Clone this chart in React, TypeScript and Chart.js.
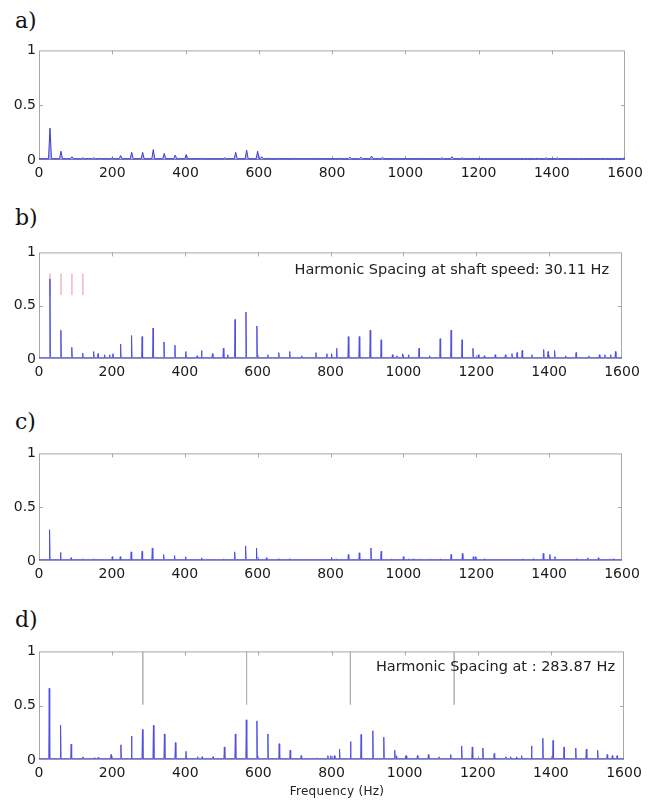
import React, { useEffect, useRef } from 'react';
import { Chart, registerables } from 'chart.js';

Chart.register(...registerables);

// ---------- tick labels ----------
const xTickValues = [0, 200, 400, 600, 800, 1000, 1200, 1400, 1600];
const yTickValues = [0, 0.5, 1];

// ---------- panel a ----------
const aFreq = [30, 60, 90, 120, 135, 150, 165, 200, 223, 253, 283, 312, 342, 372, 402, 446, 507, 537, 567, 597, 608, 627, 657, 700, 760, 820, 849, 879, 908, 938, 970, 1036, 1100, 1128, 1156, 1184, 1220, 1330, 1360, 1385, 1415, 1445, 1480, 1540, 1575, 1598];
const aAmp = [0.29, 0.08, 0.03, 0.02, 0.015, 0.02, 0.015, 0.02, 0.04, 0.07, 0.07, 0.095, 0.06, 0.045, 0.05, 0.015, 0.02, 0.07, 0.09, 0.08, 0.03, 0.015, 0.015, 0.015, 0.015, 0.015, 0.025, 0.025, 0.035, 0.025, 0.015, 0.015, 0.02, 0.03, 0.02, 0.015, 0.015, 0.015, 0.015, 0.02, 0.02, 0.015, 0.015, 0.015, 0.015, 0.02];

// ---------- panel b ----------
const bFreq = [30, 60, 90, 120, 150, 162, 180, 194, 203, 224, 254, 283, 313, 343, 373, 403, 434, 446, 476, 506, 518, 538, 568, 598, 628, 658, 688, 721, 760, 790, 803, 817, 849, 879, 909, 939, 970, 982, 998, 1014, 1043, 1072, 1101, 1131, 1161, 1191, 1206, 1222, 1252, 1280, 1298, 1312, 1326, 1353, 1385, 1397, 1415, 1445, 1474, 1509, 1538, 1553, 1569, 1582];
const bAmp = [0.75, 0.27, 0.11, 0.055, 0.07, 0.05, 0.04, 0.04, 0.05, 0.14, 0.22, 0.21, 0.29, 0.16, 0.13, 0.07, 0.03, 0.08, 0.05, 0.1, 0.04, 0.37, 0.44, 0.31, 0.04, 0.06, 0.07, 0.03, 0.06, 0.05, 0.05, 0.1, 0.21, 0.21, 0.27, 0.18, 0.04, 0.03, 0.05, 0.04, 0.1, 0.03, 0.19, 0.27, 0.18, 0.1, 0.04, 0.03, 0.04, 0.04, 0.05, 0.06, 0.08, 0.04, 0.09, 0.07, 0.08, 0.03, 0.06, 0.03, 0.04, 0.04, 0.04, 0.07];
const bMarkFreq = [30.11, 60.22, 90.33, 120.44];
const bMarkRange = [0.6, 0.8];

// ---------- panel c ----------
const cFreq = [29, 59, 88, 120, 150, 201, 223, 253, 283, 311, 342, 372, 402, 446, 507, 537, 567, 597, 624, 657, 687, 803, 817, 849, 879, 911, 939, 968, 1000, 1014, 1027, 1045, 1073, 1102, 1131, 1162, 1192, 1198, 1222, 1327, 1356, 1384, 1402, 1416, 1475, 1506, 1535, 1567, 1576];
const cAmp = [0.29, 0.08, 0.03, 0.02, 0.02, 0.04, 0.04, 0.085, 0.09, 0.12, 0.06, 0.05, 0.04, 0.03, 0.02, 0.085, 0.14, 0.12, 0.03, 0.02, 0.02, 0.03, 0.02, 0.06, 0.076, 0.12, 0.09, 0.02, 0.04, 0.02, 0.02, 0.02, 0.02, 0.02, 0.06, 0.07, 0.04, 0.04, 0.02, 0.02, 0.02, 0.07, 0.06, 0.04, 0.02, 0.03, 0.03, 0.02, 0.02];

// ---------- panel d ----------
const dFreq = [28, 59, 88, 120, 151, 162, 197, 224, 253, 283, 313, 343, 373, 402, 434, 446, 476, 507, 537, 567, 596, 626, 657, 687, 717, 760, 790, 798, 808, 822, 852, 881, 913, 943, 973, 978, 1003, 1006, 1035, 1065, 1094, 1126, 1156, 1185, 1214, 1245, 1277, 1290, 1306, 1320, 1347, 1378, 1406, 1436, 1468, 1497, 1528, 1554, 1568, 1581];
const dAmp = [0.66, 0.32, 0.145, 0.03, 0.02, 0.025, 0.05, 0.14, 0.22, 0.28, 0.32, 0.24, 0.16, 0.08, 0.03, 0.03, 0.03, 0.12, 0.24, 0.37, 0.36, 0.24, 0.15, 0.09, 0.04, 0.02, 0.04, 0.04, 0.04, 0.1, 0.17, 0.235, 0.27, 0.21, 0.09, 0.04, 0.04, 0.04, 0.04, 0.05, 0.03, 0.05, 0.13, 0.12, 0.11, 0.06, 0.03, 0.03, 0.03, 0.04, 0.13, 0.2, 0.18, 0.12, 0.11, 0.1, 0.09, 0.05, 0.04, 0.04];
const dMarkFreq = [283.87, 567.74, 851.61, 1135.48];
const dMarkRange = [0.51, 1];

const noiseFloor = 0.012;

type Pt = { x: number; y: number | null };

function spectrumPoints(freq: number[], amp: number[], hw: number): Pt[] {
  const pts: Pt[] = [{ x: 0, y: noiseFloor }];
  freq.forEach((f, i) => {
    pts.push({ x: f - hw, y: noiseFloor }, { x: f, y: amp[i] }, { x: f + hw, y: noiseFloor });
  });
  pts.push({ x: 1600, y: noiseFloor });
  return pts;
}

function markerPoints(freq: number[], range: number[]): Pt[] {
  const pts: Pt[] = [];
  freq.forEach((f) => {
    pts.push({ x: f, y: range[1] }, { x: f, y: range[0] }, { x: f, y: null });
  });
  return pts;
}

type PanelCfg = {
  key: string;
  letter: string;
  letterTop: number;
  top: number;
  bottom: number;
  right: number;
  freq: number[];
  amp: number[];
  hw: number;
  fill: boolean;
  color: string;
  markFreq?: number[];
  markRange?: number[];
  markColor?: string;
  note?: string;
  noteDx?: number;
  noteDy?: number;
};

const panels: PanelCfg[] = [
  { key: 'a', letter: 'a)', letterTop: 8, top: 49, bottom: 160, right: 625, freq: aFreq, amp: aAmp, hw: 4, fill: true, color: 'rgb(60,60,215)' },
  {
    key: 'b', letter: 'b)', letterTop: 205, top: 251, bottom: 359, right: 622, freq: bFreq, amp: bAmp, hw: 1.3, fill: false, color: 'rgb(80,80,225)',
    markFreq: bMarkFreq, markRange: bMarkRange, markColor: 'rgba(240,170,180,0.6)',
    note: 'Harmonic Spacing at shaft speed: 30.11 Hz', noteDx: 13, noteDy: 18,
  },
  { key: 'c', letter: 'c)', letterTop: 409, top: 452, bottom: 561, right: 622, freq: cFreq, amp: cAmp, hw: 1.3, fill: false, color: 'rgb(80,80,225)' },
  {
    key: 'd', letter: 'd)', letterTop: 607, top: 650, bottom: 760, right: 624, freq: dFreq, amp: dAmp, hw: 1.3, fill: false, color: 'rgb(80,80,225)',
    markFreq: dMarkFreq, markRange: dMarkRange, markColor: 'rgba(175,175,175,0.8)',
    note: 'Harmonic Spacing at : 283.87 Hz', noteDx: 9, noteDy: 16,
  },
];

const PAD_TOP = 10;
const X_AXIS_H = 30;
const Y_AXIS_W = 39;
const tickFont = { family: 'DejaVu Sans', size: 14 };

const boxPlugin = {
  id: 'boxTicks',
  beforeDatasetsDraw(chart: any) {
    const { ctx, chartArea } = chart;
    const { left, right, top, bottom } = chartArea;
    const xs = chart.scales.x;
    const ys = chart.scales.y;
    ctx.save();
    ctx.strokeStyle = '#a8a8a8';
    ctx.lineWidth = 1;
    ctx.strokeRect(left + 0.5, top + 0.5, right - left - 1, bottom - top - 1);
    ctx.beginPath();
    xTickValues.forEach((v) => {
      if (v === 0 || v === 1600) return;
      const px = Math.round(xs.getPixelForValue(v)) + 0.5;
      ctx.moveTo(px, bottom);
      ctx.lineTo(px, bottom - 4);
      ctx.moveTo(px, top);
      ctx.lineTo(px, top + 4);
    });
    yTickValues.forEach((v) => {
      if (v === 0 || v === 1) return;
      const py = Math.round(ys.getPixelForValue(v)) + 0.5;
      ctx.moveTo(left, py);
      ctx.lineTo(left + 4, py);
      ctx.moveTo(right, py);
      ctx.lineTo(right - 4, py);
    });
    ctx.stroke();
    ctx.restore();
  },
  afterDraw(chart: any) {
    const o = chart.options.plugins.boxTicks;
    if (!o || !o.note) return;
    const { ctx, chartArea } = chart;
    ctx.save();
    ctx.font = '14.5px "DejaVu Sans"';
    ctx.fillStyle = '#222';
    ctx.textAlign = 'right';
    ctx.textBaseline = 'middle';
    ctx.fillText(o.note, chartArea.right - o.dx, chartArea.top + o.dy);
    ctx.restore();
  },
};

function Panel({ cfg }: { cfg: PanelCfg }) {
  const ref = useRef<HTMLCanvasElement | null>(null);
  const plotH = cfg.bottom - cfg.top;
  const height = plotH + PAD_TOP + X_AXIS_H;

  useEffect(() => {
    if (!ref.current) return;
    const datasets: any[] = [
      {
        data: spectrumPoints(cfg.freq, cfg.amp, cfg.hw),
        borderColor: cfg.color,
        backgroundColor: 'rgba(60,60,215,0.35)',
        borderWidth: 1,
        pointRadius: 0,
        tension: 0,
        fill: cfg.fill ? 'origin' : false,
      },
    ];
    if (cfg.markFreq && cfg.markRange) {
      datasets.push({
        data: markerPoints(cfg.markFreq, cfg.markRange),
        borderColor: cfg.markColor,
        borderWidth: 1,
        pointRadius: 0,
        spanGaps: false,
        fill: false,
      });
    }
    const chart = new Chart(ref.current, {
      type: 'line',
      data: { datasets },
      plugins: [boxPlugin],
      options: {
        responsive: false,
        animation: false,
        events: [],
        layout: { padding: { top: PAD_TOP, left: 0, right: 655 - cfg.right, bottom: 0 } },
        plugins: {
          legend: { display: false },
          tooltip: { enabled: false },
          boxTicks: { note: cfg.note, dx: cfg.noteDx, dy: cfg.noteDy },
        } as any,
        scales: {
          x: {
            type: 'linear',
            min: 0,
            max: 1600,
            grid: { display: false, drawTicks: false },
            border: { display: false },
            ticks: {
              stepSize: 200, autoSkip: false, maxRotation: 0, padding: 5, font: tickFont, color: '#1a1a1a',
              callback: (v: any) => String(v),
            },
            afterFit: (s: any) => { s.height = X_AXIS_H; },
          },
          y: {
            type: 'linear',
            min: 0,
            max: 1,
            grid: { display: false, drawTicks: false },
            border: { display: false },
            ticks: {
              stepSize: 0.5, padding: 3, font: tickFont, color: '#1a1a1a',
              callback: (v: any) => String(v),
            },
            afterFit: (s: any) => { s.width = Y_AXIS_W; },
          },
        },
      } as any,
    });
    return () => chart.destroy();
  }, [cfg]);

  return (
    <>
      <div
        style={{
          position: 'absolute', left: 15, top: cfg.letterTop, fontFamily: '"DejaVu Serif", serif',
          fontSize: 22, lineHeight: '26px', color: '#111',
        }}
      >
        {cfg.letter}
      </div>
      <canvas
        ref={ref}
        width={655}
        height={height}
        style={{ position: 'absolute', left: 0, top: cfg.top - PAD_TOP, width: 655, height }}
      />
    </>
  );
}

export default function App() {
  return (
    <div style={{ position: 'absolute', left: 0, top: 0, width: 655, height: 801, background: '#fff', overflow: 'hidden' }}>
      {panels.map((p) => (
        <Panel key={p.key} cfg={p} />
      ))}
      <div
        style={{
          position: 'absolute', left: 237, width: 200, top: 783, textAlign: 'center',
          fontFamily: '"DejaVu Sans", sans-serif', fontSize: 12, lineHeight: '16px', color: '#222', letterSpacing: 0.3,
        }}
      >
        Frequency (Hz)
      </div>
    </div>
  );
}
